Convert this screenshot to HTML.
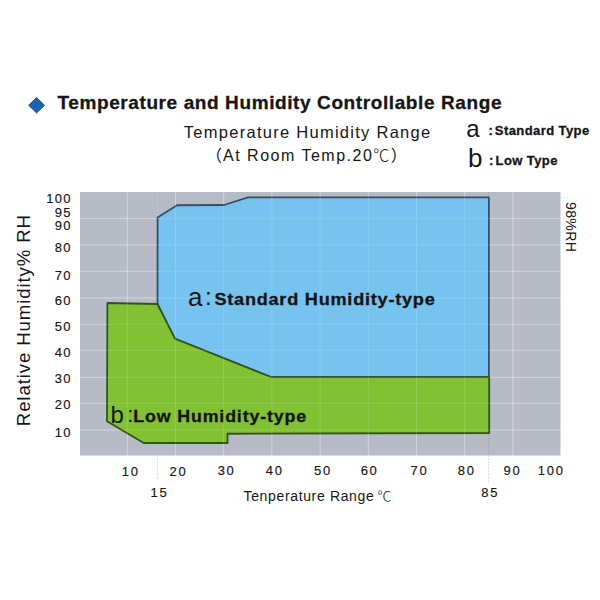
<!DOCTYPE html>
<html><head><meta charset="utf-8">
<style>
html,body{margin:0;padding:0;background:#fff;width:600px;height:600px;overflow:hidden}
svg{display:block}
text{font-family:"Liberation Sans","Noto Sans CJK SC",sans-serif;fill:#151515}
.b{font-weight:700;stroke:#151515;stroke-width:0.3}
</style></head>
<body>
<svg width="600" height="600" viewBox="0 0 600 600">
<rect x="0" y="0" width="600" height="600" fill="#fff"/>
<!-- title -->
<polygon points="36.6,97.6 44.5,105.3 36.6,113 28.7,105.3" fill="#1a63ae" stroke="#143f72" stroke-width="0.9" stroke-linejoin="miter"/>
<text class="b" x="57.5" y="109.3" font-size="19" letter-spacing="0.6">Temperature and Humidity Controllable Range</text>
<text x="183.8" y="138.3" font-size="16.5" letter-spacing="1.27">Temperature Humidity Range</text>
<text x="206" y="160.8" font-size="16" letter-spacing="1.5">（<tspan dx="-0.5">At Room Temp.20<tspan style="font-family:'Noto Sans CJK SC',sans-serif;font-weight:300">℃</tspan></tspan>）</text>
<!-- legend -->
<text x="466.2" y="136.6" font-size="24">a</text>
<text class="b" x="488.5" y="135" font-size="13">:</text>
<text class="b" x="494.8" y="135" font-size="13" letter-spacing="0.42">Standard Type</text>
<text x="468" y="167.2" font-size="26">b</text>
<text class="b" x="489" y="164.6" font-size="13">:</text>
<text class="b" x="495.6" y="164.6" font-size="13" letter-spacing="0.4">Low Type</text>
<!-- plot bg -->
<rect x="80" y="192" width="480.5" height="263.5" fill="#b6bbc6"/>
<g stroke-width="1" stroke-dasharray="1.5,1.5">
<line x1="80" y1="197.6" x2="560.5" y2="197.6" stroke="#fff" stroke-opacity="0.13"/>
<line x1="560.5" y1="197.6" x2="568" y2="197.6" stroke="#d6d8dd"/>
<line x1="157.6" y1="192" x2="157.6" y2="455.5" stroke="#fff" stroke-opacity="0.18"/>
<line x1="157.6" y1="455.5" x2="157.6" y2="480" stroke="#d2d2d2"/>
<line x1="488.6" y1="192" x2="488.6" y2="455.5" stroke="#9aa0ab" stroke-opacity="0.7"/>
<line x1="488.6" y1="455.5" x2="488.6" y2="483" stroke="#d2d2d2"/>
</g>
<!-- grid -->
<g id="grid" stroke="#ffffff" stroke-opacity="0.28" stroke-width="1">
<line x1="127.3" y1="192" x2="127.3" y2="455.5"/>
<line x1="175.5" y1="192" x2="175.5" y2="455.5"/>
<line x1="223.7" y1="192" x2="223.7" y2="455.5"/>
<line x1="271.9" y1="192" x2="271.9" y2="455.5"/>
<line x1="320.1" y1="192" x2="320.1" y2="455.5"/>
<line x1="368.3" y1="192" x2="368.3" y2="455.5"/>
<line x1="416.5" y1="192" x2="416.5" y2="455.5"/>
<line x1="464.7" y1="192" x2="464.7" y2="455.5"/>
<line x1="512.9" y1="192" x2="512.9" y2="455.5"/>
<line x1="80" y1="218.7" x2="560.5" y2="218.7"/>
<line x1="80" y1="245" x2="560.5" y2="245"/>
<line x1="80" y1="271.3" x2="560.5" y2="271.3"/>
<line x1="80" y1="298" x2="560.5" y2="298"/>
<line x1="80" y1="324.3" x2="560.5" y2="324.3"/>
<line x1="80" y1="350.3" x2="560.5" y2="350.3"/>
<line x1="80" y1="377.3" x2="560.5" y2="377.3"/>
<line x1="80" y1="403.3" x2="560.5" y2="403.3"/>
<line x1="80" y1="430" x2="560.5" y2="430"/>
</g>
<!-- polygons -->
<polygon points="157.6,217.4 177,205.25 224,205 248,197.4 488.9,197.4 488.9,377 271,377 175,339.4 157.5,304" fill="#76c3ef" stroke="#34506a" stroke-width="1.8" stroke-linejoin="round"/>
<polygon points="107.4,303 157.4,304 175,338.6 271,377 489.2,377 489.2,433 227.5,433.75 227.5,443 143.75,443 107,421.25" fill="#82c134" stroke="#34531a" stroke-width="1.8" stroke-linejoin="round"/>

<use href="#grid" style="opacity:0.5"/>
<!-- plot labels -->
<text x="188" y="305.5" font-size="26" style="font-weight:300">a</text>
<text x="205" y="304.6" font-size="24">:</text>
<text class="b" transform="translate(214.4,304.7) scale(1.08,1)" font-size="16.8" letter-spacing="0.7">Standard Humidity-type</text>
<text x="110.5" y="423" font-size="24">b</text>
<text x="127.3" y="422.3" font-size="22">:</text>
<text class="b" transform="translate(133.2,422.4) scale(1.1,1)" font-size="16.2" letter-spacing="0.78">Low Humidity-type</text>
<!-- y axis labels -->
<g font-size="13" text-anchor="end" letter-spacing="1.3" stroke="#151515" stroke-width="0.15">
<text x="71.9" y="203">100</text>
<text x="71.9" y="217">95</text>
<text x="71.9" y="230">90</text>
<text x="71.9" y="252">80</text>
<text x="71.9" y="279.7">70</text>
<text x="71.9" y="305">60</text>
<text x="71.9" y="330.5">50</text>
<text x="71.9" y="356.6">40</text>
<text x="71.9" y="382.6">30</text>
<text x="71.9" y="408.6">20</text>
<text x="71.9" y="437">10</text>
</g>
<!-- x axis labels -->
<g font-size="13" text-anchor="middle" letter-spacing="1.7" transform="translate(1.2,0)" stroke="#151515" stroke-width="0.15">
<text x="129.5" y="475.5">10</text>
<text x="177.3" y="476">20</text>
<text x="225.4" y="474.8">30</text>
<text x="273.5" y="474.8">40</text>
<text x="321.8" y="474.8">50</text>
<text x="368.4" y="474.8">60</text>
<text x="418.2" y="474.8">70</text>
<text x="465.5" y="474.8">80</text>
<text x="511.2" y="474.8">90</text>
<text x="550" y="474.8">100</text>
<text x="158.2" y="497">15</text>
<text x="489" y="497">85</text>
</g>
<text x="243.5" y="501" font-size="14" letter-spacing="0.65">Tenperature Range <tspan style="font-family:'Noto Sans CJK SC',sans-serif;font-weight:300" dx="-1.5">℃</tspan></text>
<text transform="translate(29.6,426.2) rotate(-90)" font-size="18.6" letter-spacing="0.9">Relative Humidity% RH</text>
<text transform="translate(566.3,202) rotate(90)" font-size="14" letter-spacing="0.4">98%RH</text>
</svg>
</body></html>
